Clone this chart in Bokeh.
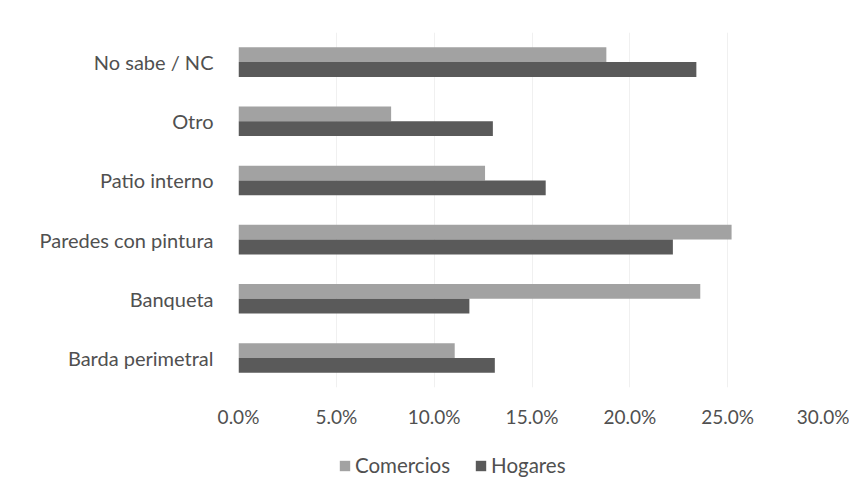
from bokeh.plotting import figure
from bokeh.layouts import column
from bokeh.models import ColumnDataSource, FactorRange, Range1d, NumeralTickFormatter, FixedTicker, Legend, LegendItem
from bokeh.transform import dodge
from bokeh.embed import file_html
from bokeh.resources import INLINE

categories = ["Barda perimetral", "Banqueta", "Paredes con pintura", "Patio interno", "Otro", "No sabe / NC"]
comercios = [0.1105, 0.236, 0.252, 0.126, 0.078, 0.188]
hogares = [0.131, 0.118, 0.222, 0.157, 0.130, 0.234]
ticks = [0.0, 0.05, 0.10, 0.15, 0.20, 0.25, 0.30]
series_names = ["Comercios", "Hogares"]
series_fields = ["com", "hog"]
series_colors = ["#a2a2a2", "#5a5a5a"]

src = ColumnDataSource(dict(cat=categories, com=comercios, hog=hogares))

FONT = "Lato"
TXT = "#505050"

p = figure(width=849, height=430, output_backend="svg", toolbar_location=None,
           y_range=FactorRange(factors=categories, range_padding=0),
           x_range=Range1d(0, 0.30),
           min_border_left=238, min_border_right=24, min_border_top=32, min_border_bottom=42)
p.outline_line_color = None
p.background_fill_color = "white"
p.border_fill_color = "white"

p.hbar(y=dodge("cat", 0.125, range=p.y_range), right="com", left=0, height=0.25,
       source=src, fill_color=series_colors[0], line_color=None)
p.hbar(y=dodge("cat", -0.125, range=p.y_range), right="hog", left=0, height=0.25,
       source=src, fill_color=series_colors[1], line_color=None)

p.xaxis.ticker = FixedTicker(ticks=ticks)
p.xaxis.formatter = NumeralTickFormatter(format="0.0%")
p.xaxis.axis_line_color = None
p.xaxis.major_tick_line_color = None
p.xaxis.minor_tick_line_color = None
p.xaxis.major_label_standoff = 11
p.xaxis.major_label_text_font = FONT
p.xaxis.major_label_text_font_size = "19px"
p.xaxis.major_label_text_color = TXT

p.yaxis.axis_line_color = None
p.yaxis.major_tick_line_color = None
p.yaxis.minor_tick_line_color = None
p.yaxis.major_label_standoff = 19
p.yaxis.major_label_text_font = FONT
p.yaxis.major_label_text_font_size = "20px"
p.yaxis.major_label_text_color = TXT

p.xgrid.grid_line_color = "#f0f0f0"
p.ygrid.grid_line_color = None

# legend row (separate figure so the legend can sit below the axis);
# its renderers share the data but have zero height and lie outside this strip's x range
lg = figure(width=849, height=48, output_backend="svg", toolbar_location=None,
            x_axis_location=None, y_axis_location=None,
            x_range=Range1d(1, 2), y_range=FactorRange(factors=categories),
            min_border_left=0, min_border_right=0, min_border_top=0, min_border_bottom=0)
lg.outline_line_color = None
lg.xgrid.grid_line_color = None
lg.ygrid.grid_line_color = None
items = []
for name, field, color in zip(series_names, series_fields, series_colors):
    rr = lg.hbar(y="cat", right=field, left=0, height=0, source=src,
                 fill_color=color, line_color=None)
    items.append(LegendItem(label=name, renderers=[rr]))

legend = Legend(items=items, orientation="horizontal", location=(100, 1),
                label_text_font=FONT, label_text_font_size="20.5px", label_text_color=TXT,
                glyph_width=13, glyph_height=13, spacing=24, padding=0, margin=0,
                label_standoff=4, border_line_color=None, background_fill_alpha=0)
lg.add_layout(legend, "center")

open("out.html", "w").write(file_html(column(p, lg, spacing=0), INLINE))
